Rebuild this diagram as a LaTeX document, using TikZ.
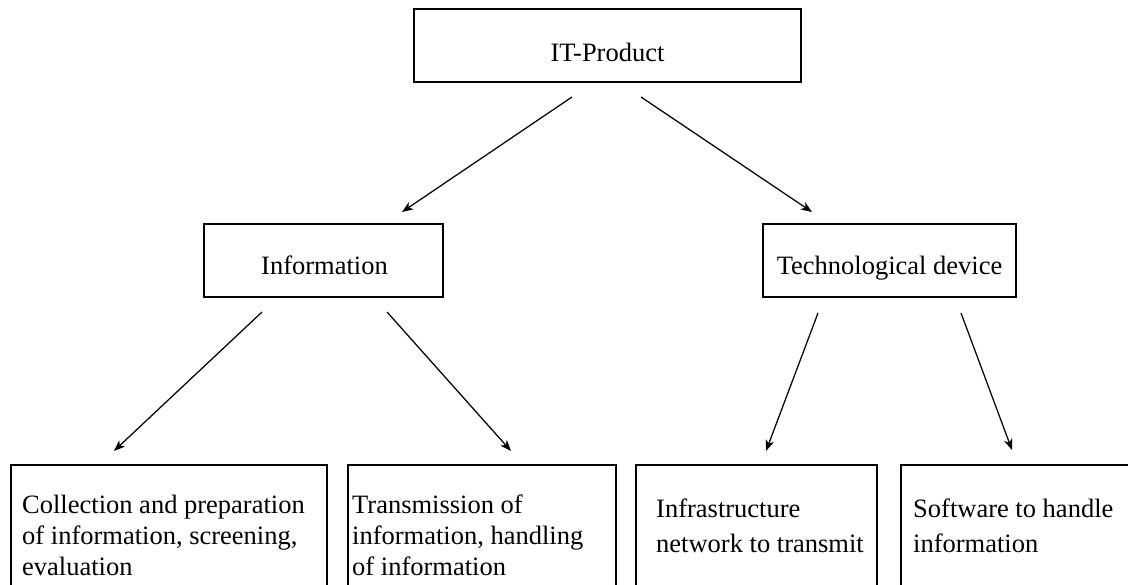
\documentclass[tikz,border=0pt]{standalone}
\usepackage{fontspec}
\setmainfont{Liberation Serif}
\usetikzlibrary{arrows.meta}
\begin{document}
\begin{tikzpicture}[x=1pt,y=-1pt,
  box/.style={draw=black, line width=1.3pt, inner sep=0pt},
  lbl/.style={inner sep=0pt, font=\fontsize{26.5}{30.5}\selectfont},
  lblA/.style={inner sep=0pt, align=left, anchor=north west, font=\fontsize{26.5}{31}\selectfont},
  lblB/.style={inner sep=0pt, align=left, anchor=north west, font=\fontsize{26.5}{35.5}\selectfont},
  conn/.style={line width=1.25pt, -{Stealth[length=11pt,width=8.5pt,inset=3pt]}}]
\clip (0,0) rectangle (1128,585);
% boxes
\node[box, minimum width=387pt, minimum height=73pt] (top) at (607.5,45.5) {};
\node[box, minimum width=239pt, minimum height=73pt] (info) at (323.5,260.5) {};
\node[box, minimum width=253pt, minimum height=73pt] (tech) at (889.5,260.5) {};
\node[box, minimum width=316pt, minimum height=160pt] (col) at (169,545) {};
\node[box, minimum width=268pt, minimum height=160pt] (trans) at (482,545) {};
\node[box, minimum width=241pt, minimum height=160pt] (infra) at (756.5,545) {};
\node[box, minimum width=259pt, minimum height=160pt] (soft) at (1030.5,545) {};
% texts
\node[lbl, anchor=base] (toptxt) at (607.5,62) {IT-Product};
\node[lbl, anchor=base] (infotxt) at (324.5,275) {Information};
\node[lbl, anchor=base] (techtxt) at (889.5,275) {Technological device};
\node[lblA] (coltxt) at (22,493) {\rule{0pt}{20pt}Collection and preparation\\of information, screening,\\evaluation};
\node[lblA] (transtxt) at (352,493) {\rule{0pt}{20pt}Transmission of\\information, handling\\of information};
\node[lblB] (infratxt) at (656,497) {\rule{0pt}{20pt}Infrastructure\\network to transmit};
\node[lblB] (softtxt) at (913,497) {\rule{0pt}{20pt}Software to handle\\information};
% connector ends
\coordinate (a1s) at (572,97);  \coordinate (a1e) at (402,212);
\coordinate (a2s) at (641,97);  \coordinate (a2e) at (812,212);
\coordinate (b1s) at (262,312); \coordinate (b1e) at (114,451);
\coordinate (b2s) at (387,312); \coordinate (b2e) at (511,451);
\coordinate (c1s) at (818,313); \coordinate (c1e) at (766,451);
\coordinate (c2s) at (961,313); \coordinate (c2e) at (1012,450);
\draw[conn] (a1s) -- (a1e);
\draw[conn] (a2s) -- (a2e);
\draw[conn] (b1s) -- (b1e);
\draw[conn] (b2s) -- (b2e);
\draw[conn] (c1s) -- (c1e);
\draw[conn] (c2s) -- (c2e);
\end{tikzpicture}
\end{document}
